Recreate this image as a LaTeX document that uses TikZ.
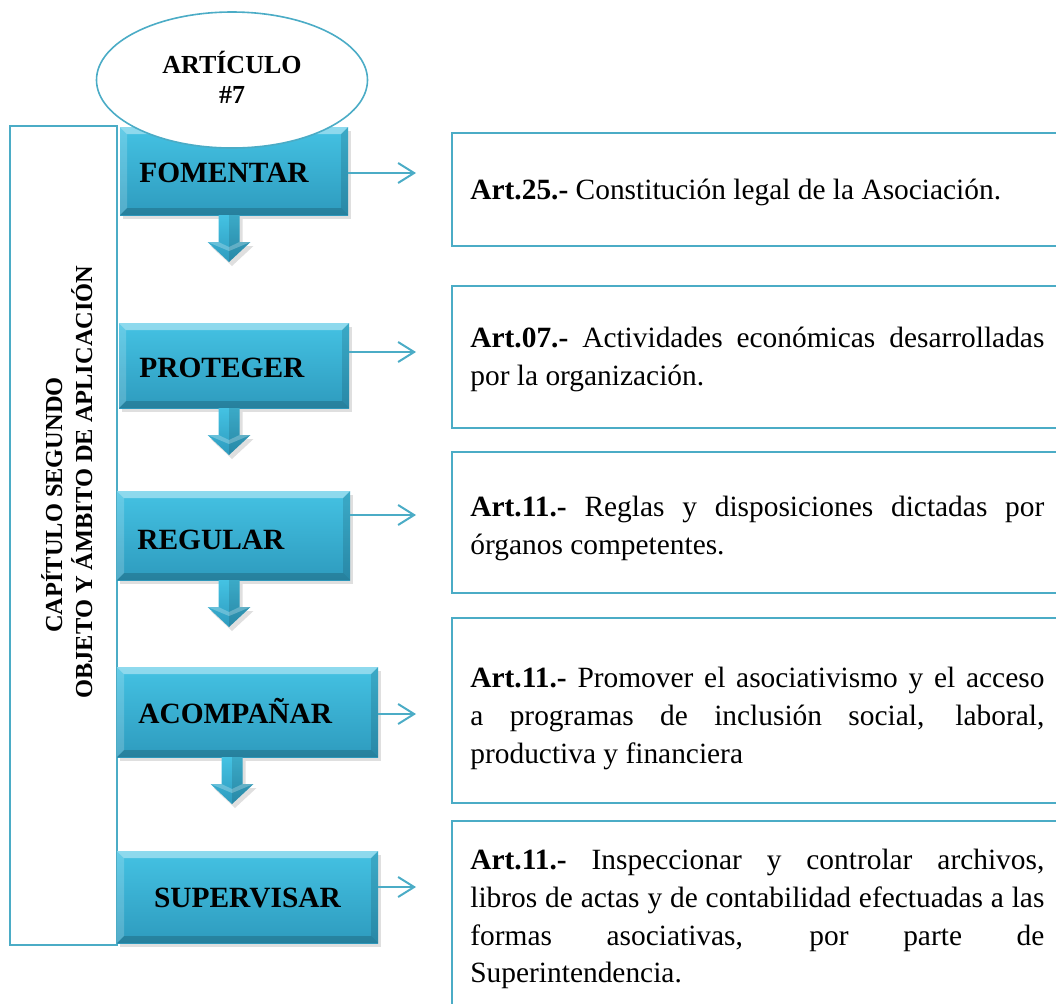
\documentclass[tikz,border=0pt]{standalone}
\usepackage{fontspec}
\setmainfont{Liberation Serif}
\usetikzlibrary{shapes.geometric,shadows,arrows.meta,fit,calc}

\definecolor{accent}{HTML}{4BACC6}
\definecolor{boxtop}{HTML}{44C2E3}
\definecolor{boxbot}{HTML}{2E9BBE}

\tikzset{
  outline/.style={draw=accent, line width=0.8pt},
  framebox/.style={outline, rectangle, inner sep=0pt},
  tbox/.style={outline, rectangle, inner sep=0pt},
  softshadow/.style={drop shadow={shadow xshift=1.5pt, shadow yshift=-2pt, opacity=0.25}},
  stepbox/.style={rectangle, inner sep=0pt, outer sep=0pt,
    top color=boxtop, bottom color=boxbot, softshadow,
    path picture={
      \def\bv{3.5pt}
      \coordinate (nw) at (path picture bounding box.north west);
      \coordinate (ne) at (path picture bounding box.north east);
      \coordinate (sw) at (path picture bounding box.south west);
      \coordinate (se) at (path picture bounding box.south east);
      \fill[white, opacity=0.4] (nw) -- (ne) -- ([shift={(-\bv,-\bv)}]ne) -- ([shift={(\bv,-\bv)}]nw) -- cycle;
      \fill[white, opacity=0.18] (nw) -- (sw) -- ([shift={(\bv,\bv)}]sw) -- ([shift={(\bv,-\bv)}]nw) -- cycle;
      \fill[black, opacity=0.17] (sw) -- (se) -- ([shift={(-\bv,\bv)}]se) -- ([shift={(\bv,\bv)}]sw) -- cycle;
      \fill[black, opacity=0.12] (ne) -- (se) -- ([shift={(-\bv,\bv)}]se) -- ([shift={(-\bv,-\bv)}]ne) -- cycle;
    }},
  steplabel/.style={font=\fontsize{14.7pt}{17pt}\selectfont\bfseries, inner sep=0pt, anchor=base west},
  vlabel/.style={font=\fontsize{12.2pt}{14pt}\selectfont\bfseries, inner sep=0pt, rotate=90, anchor=base},
  artlabel/.style={font=\fontsize{13pt}{15pt}\selectfont\bfseries, inner sep=0pt, anchor=base},
  bodyline/.style={font=\fontsize{14.7pt}{18.9pt}\selectfont, inner sep=0pt, anchor=base west},
  bodytext/.style={font=\fontsize{14.7pt}{18.9pt}\selectfont, inner sep=0pt, anchor=north west,
    text width=287pt, align=justify},
  flowarrow/.style={draw=accent, line width=1pt, -{Straight Barb[length=8pt,width=10pt]}},
  downfill/.style={top color=boxtop, bottom color=boxbot, softshadow},
}

% block arrow pointing down from the bottom of a step box
\newcommand\blockdown[2]{%
  \begin{scope}[shift={([xshift=#2]#1.south west)}]
    \path[downfill] (-10.5,0) -- (10.5,0) -- (10.5,27) -- (21.5,27) -- (0,47)
      -- (-21.5,27) -- (-10.5,27) -- cycle;
    \fill[black, opacity=0.12] (0,0) -- (10.5,0) -- (10.5,27) -- (21.5,27) -- (0,47) -- cycle;
    \fill[white, opacity=0.25] (-21.5,27) -- (-10.5,27) -- (0,32) -- (10.5,27) -- (21.5,27) -- (0,36) -- cycle;
  \end{scope}}

\newcommand\startstrut{\rule{0pt}{12pt}}

\begin{document}
\begin{tikzpicture}[x=0.5pt,y=-0.5pt]
\useasboundingbox (0,0) rectangle (1056,1003);
\clip (0,0) rectangle (1056,1003);

% chapter frame with rotated title
\node[framebox, fit={(10,126) (117,945)}] (frame) {};
\node[vlabel] (cap1) at (62,505) {CAPÍTULO SEGUNDO};
\node[vlabel] (cap2) at (92,482) {OBJETO Y ÁMBITO DE APLICACIÓN};

% step boxes
\node[stepbox, fit={(120,127) (348,215)}] (fom) {};
\node[steplabel] (fomT) at (139,182) {FOMENTAR};
\node[stepbox, fit={(119,323) (349,408)}] (pro) {};
\node[steplabel] (proT) at (139,377) {PROTEGER};
\node[stepbox, fit={(117,491) (350,580)}] (reg) {};
\node[steplabel] (regT) at (137,549) {REGULAR};
\node[stepbox, fit={(117,667) (378,757)}] (aco) {};
\node[steplabel] (acoT) at (138,723) {ACOMPAÑAR};
\node[stepbox, fit={(117,851) (378,943)}] (sup) {};
\node[steplabel, anchor=base] (supT) at (247.5,907) {SUPERVISAR};

% downward block arrows
\blockdown{fom}{54.5pt}
\blockdown{pro}{55pt}
\blockdown{reg}{56pt}
\blockdown{aco}{57.5pt}

% article ellipse
\node[ellipse, outline, fill=white, minimum width=135.5pt, minimum height=68pt, inner sep=0pt] (art) at (232,80) {};
\node[artlabel] (art1) at (232,73) {ARTÍCULO};
\node[artlabel] (art2) at (232,103) {\#7};

% description boxes
\node[tbox, fit={(452,133) (1070,246)}] (d1) {};
\node[tbox, fit={(452,286) (1070,428)}] (d2) {};
\node[tbox, fit={(452,452) (1070,593)}] (d3) {};
\node[tbox, fit={(452,618) (1070,803)}] (d4) {};
\node[tbox, fit={(452,821) (1070,1015)}] (d5) {};

\node[bodyline] (d1T) at (470,199) {\textbf{Art.25.-} Constitución legal de la Asociación.};
\node[bodytext] (d2T) at (470,323) {\startstrut\textbf{Art.07.-} Actividades económicas desarrolladas\linebreak por la organización.};
\node[bodytext] (d3T) at (470,492) {\startstrut\textbf{Art.11.-} Reglas y disposiciones dictadas por\linebreak órganos competentes.};
\node[bodytext] (d4T) at (470,663) {\startstrut\textbf{Art.11.-} Promover el asociativismo y el acceso\linebreak a programas de inclusión social, laboral,\linebreak productiva y financiera};
\node[bodytext] (d5T) at (470,845) {\startstrut\textbf{Art.11.-} Inspeccionar y controlar archivos,\linebreak libros de actas y de contabilidad efectuadas a las\linebreak formas asociativas, por parte de\linebreak Superintendencia.};

% pointers from the steps
\coordinate (r1) at (416,173);
\coordinate (r2) at (416,352);
\coordinate (r3) at (416,515);
\coordinate (r4) at (416,714);
\coordinate (r5) at (416,887);
\draw[flowarrow] (fom.east |- r1) -- (r1);
\draw[flowarrow] (pro.east |- r2) -- (r2);
\draw[flowarrow] (reg.east |- r3) -- (r3);
\draw[flowarrow] (aco.east |- r4) -- (r4);
\draw[flowarrow] (sup.east |- r5) -- (r5);
\end{tikzpicture}
\end{document}
